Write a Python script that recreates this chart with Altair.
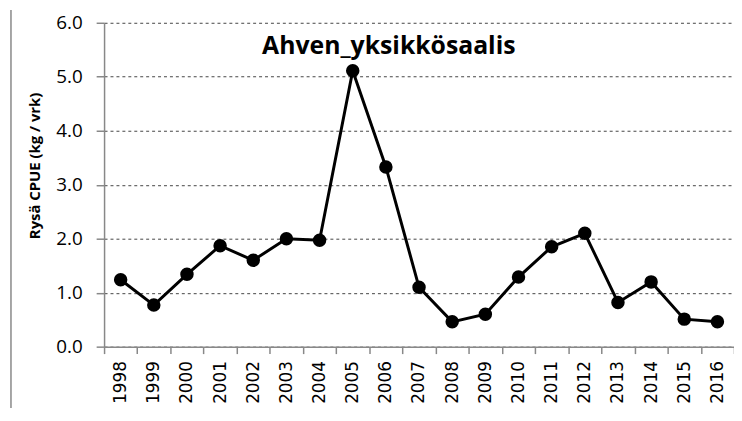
import altair as alt
import pandas as pd

years = [str(y) for y in range(1998, 2017)]
cpue = [1.24, 0.77, 1.34, 1.87, 1.60, 2.00, 1.97, 5.11, 3.33, 1.10, 0.46,
        0.60, 1.29, 1.85, 2.10, 0.82, 1.20, 0.51, 0.46]
title_text = ["Ahven_yksikkösaalis"]
y_title = "Rysä CPUE (kg / vrk)"

df = pd.DataFrame({"Vuosi": years, "CPUE": cpue})
tdf = pd.DataFrame({"t": title_text})

x_enc = alt.X(
    "Vuosi:O",
    sort=years,
    scale=alt.Scale(paddingInner=0, paddingOuter=0),
    axis=alt.Axis(
        title=None,
        labelAngle=270,
        labelFont="DejaVu Sans",
        labelFontSize=17,
        labelColor="#000000",
        labelPadding=7,
        tickBand="extent",
        tickSize=7,
        tickColor="#888888",
        tickWidth=1.5,
        domainColor="#888888",
        domainWidth=1.5,
        grid=False,
    ),
)
y_enc = alt.Y(
    "CPUE:Q",
    scale=alt.Scale(domain=[0, 6], nice=False),
    axis=alt.Axis(
        title=y_title,
        values=[0, 1, 2, 3, 4, 5, 6],
        format=".1f",
        labelFont="Open Sans",
        labelFontSize=19,
        labelColor="#000000",
        labelPadding=14,
        tickSize=8,
        tickColor="#888888",
        tickWidth=1.5,
        domainColor="#888888",
        domainWidth=1.5,
        grid=True,
        gridColor="#444444",
        gridDash=[3, 3],
        gridWidth=1,
        titleFont="Open Sans",
        titleFontSize=15,
        titleFontWeight="bold",
        titleColor="#000000",
        titleAngle=270,
        titleX=-70,
        titleY=144,
        titleAlign="center",
        titleBaseline="middle",
    ),
)

line = alt.Chart(df).mark_line(color="#000000", strokeWidth=3).encode(x=x_enc, y=y_enc)
pts = alt.Chart(df).mark_point(
    filled=True, color="#000000", size=185, opacity=1, shape="circle"
).encode(x=x_enc, y=y_enc)

title = alt.Chart(tdf).mark_text(
    font="Open Sans", fontSize=25, fontWeight="bold", color="#000000",
    align="center", baseline="alphabetic"
).encode(text="t:N", x=alt.value(287.5), y=alt.value(32))

border = alt.Chart(tdf).mark_rule(color="#888888", strokeWidth=1.5).encode(
    x=alt.value(-94), y=alt.value(-13), y2=alt.value(392)
)

chart = alt.layer(line, pts, title, border).properties(
    width=636,
    height=327,
    autosize=alt.AutoSizeParams(type="none"),
    padding={"left": 97, "top": 13, "right": 0, "bottom": 60},
).configure_view(stroke=None)

chart.save("out.html", embed_options={"renderer": "svg", "actions": False})
